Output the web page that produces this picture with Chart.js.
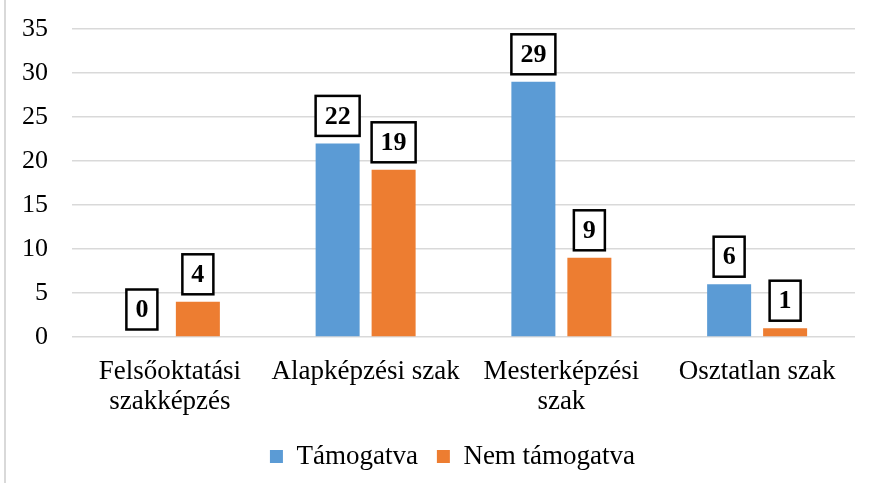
<!DOCTYPE html>
<html>
<head>
<meta charset="utf-8">
<script src="https://cdn.jsdelivr.net/npm/chart.js@4.4.0/dist/chart.umd.min.js"></script>
<style>
  html, body { margin: 0; padding: 0; background: #fff; }
  #wrap { width: 872px; height: 483px; position: relative; }
</style>
</head>
<body>
<div id="wrap"><canvas id="c" width="872" height="483"></canvas></div>
<script>
const categories = [["Felsőoktatási", "szakképzés"], "Alapképzési szak", ["Mesterképzési", "szak"], "Osztatlan szak"];
const seriesNames = ["Támogatva", "Nem támogatva"];
const supported = [0, 22, 29, 6];
const notSupported = [4, 19, 9, 1];
const yTicks = [0, 5, 10, 15, 20, 25, 30, 35];

const FONT = "'Liberation Serif', 'Times New Roman', serif";

const frameLine = {
  id: 'frameLine',
  beforeDraw(chart) {
    const ctx = chart.ctx;
    ctx.save();
    ctx.fillStyle = '#d9d9d9';
    ctx.fillRect(4, 0, 2, chart.height);
    ctx.restore();
    if (chart.legend) { chart.legend.left = 50; }
  }
};

const boxLabels = {
  id: 'boxLabels',
  afterDatasetsDraw(chart) {
    const ctx = chart.ctx;
    ctx.save();
    ctx.font = "bold 26px " + FONT;
    ctx.textAlign = 'center';
    ctx.textBaseline = 'middle';
    chart.data.datasets.forEach((ds, di) => {
      const meta = chart.getDatasetMeta(di);
      meta.data.forEach((bar, i) => {
        const txt = String(ds.data[i]);
        const tw = ctx.measureText(txt).width;
        const w = tw + 18, h = 40;
        const bottom = bar.y - 7.5;
        const x = bar.x - w / 2, y = bottom - h;
        ctx.fillStyle = '#fff';
        ctx.fillRect(x, y, w, h);
        ctx.lineWidth = 2.5;
        ctx.strokeStyle = '#000';
        ctx.strokeRect(x, y, w, h);
        ctx.fillStyle = '#000';
        ctx.fillText(txt, bar.x, y + h / 2 + 1);
      });
    });
    ctx.restore();
  }
};

new Chart(document.getElementById('c'), {
  type: 'bar',
  data: {
    labels: categories,
    datasets: [
      { label: seriesNames[0], data: supported, backgroundColor: '#5B9BD5', categoryPercentage: 0.572, barPercentage: 0.786 },
      { label: seriesNames[1], data: notSupported, backgroundColor: '#ED7D31', categoryPercentage: 0.572, barPercentage: 0.786 }
    ]
  },
  options: {
    responsive: false,
    animation: false,
    devicePixelRatio: 1,
    layout: { padding: { top: 29, right: 17, bottom: 3, left: 0 } },
    plugins: {
      tooltip: { enabled: false },
      legend: {
        position: 'bottom',
        labels: {
          boxWidth: 13, boxHeight: 13, padding: 19,
          color: '#000',
          font: { family: FONT, size: 27 }
        }
      }
    },
    scales: {
      y: {
        min: 0, max: 35,
        afterBuildTicks(scale) { scale.ticks = yTicks.map(v => ({ value: v })); },
        afterFit(scale) { scale.width = 72; scale.paddingTop = 0; scale.paddingBottom = 0; },
        border: { display: false },
        grid: { color: '#d9d9d9', lineWidth: 1.5, drawTicks: false },
        ticks: { padding: 24, color: '#000', font: { family: FONT, size: 26 } }
      },
      x: {
        afterFit(scale) { scale.height = 87; },
        border: { display: false },
        grid: { display: false, drawTicks: false },
        ticks: { padding: 20, color: '#000', maxRotation: 0, autoSkip: false, font: { family: FONT, size: 27, lineHeight: 1.1 } }
      }
    }
  },
  plugins: [frameLine, boxLabels]
});
</script>
</body>
</html>
